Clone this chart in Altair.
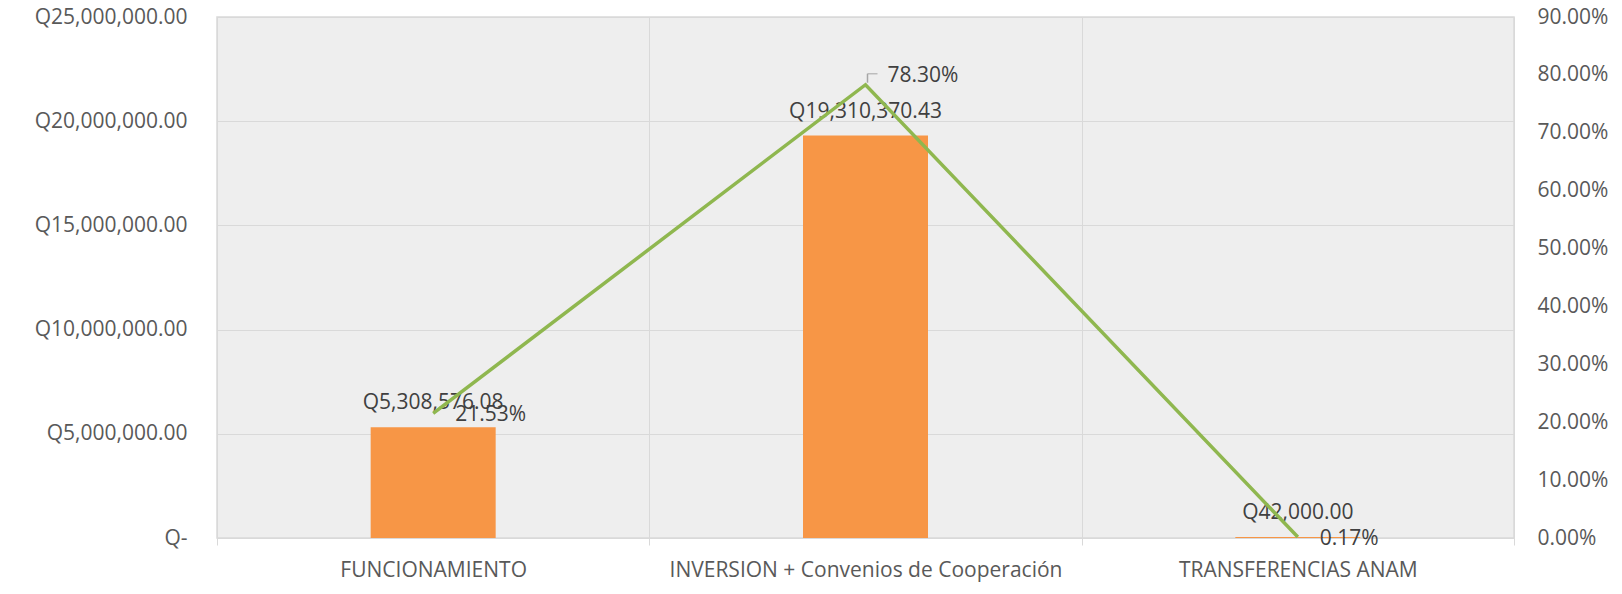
import altair as alt
import pandas as pd

categories = ["FUNCIONAMIENTO", "INVERSION + Convenios de Cooperación", "TRANSFERENCIAS ANAM"]
amounts = [5308576.08, 19310370.43, 42000.00]
amount_labels = ["Q5,308,576.08", "Q19,310,370.43", "Q42,000.00"]
percents = [0.2153, 0.7830, 0.0017]
left_ticks = [0, 5000000, 10000000, 15000000, 20000000, 25000000]
right_ticks = [0, 0.1, 0.2, 0.3, 0.4, 0.5, 0.6, 0.7, 0.8, 0.9]

df = pd.DataFrame({
    "cat": categories,
    "amount": amounts,
    "amt_label": amount_labels,
    "pct": percents,
})

FONT = "Open Sans"
LBL = "#595959"
GRID = "#d9d9d9"
ORANGE = "#F79646"
GREEN = "#8FB74F"

x_enc = alt.X(
    "cat:N", sort=categories, title=None,
    scale=alt.Scale(paddingInner=0, paddingOuter=0),
    axis=alt.Axis(labelAngle=0, labelFont=FONT, labelFontSize=21, labelColor=LBL,
                  labelPadding=14, tickBand="extent", tickSize=7, tickColor=GRID,
                  grid=True, gridColor=GRID, domainColor=GRID, labelLimit=600),
)

y_left = alt.Y(
    "amount:Q", title=None,
    scale=alt.Scale(domain=[0, 25000000], nice=False),
    axis=alt.Axis(values=left_ticks, orient="left", grid=True, gridColor=GRID,
                  domain=False, ticks=False, labelPadding=30, labelFont=FONT,
                  labelFontSize=21, labelColor=LBL,
                  labelExpr="datum.value == 0 ? 'Q-' : 'Q' + format(datum.value, ',.2f')"),
)

y_right = alt.Y(
    "pct:Q", title=None,
    scale=alt.Scale(domain=[0, 0.9], nice=False),
    axis=alt.Axis(values=right_ticks, orient="right", grid=False, domain=False,
                  ticks=False, labelPadding=23, labelFont=FONT, labelFontSize=21,
                  labelColor=LBL, format=".2%"),
)

base = alt.Chart(df)

bars = base.mark_bar(size=125, color=ORANGE).encode(x=x_enc, y=y_left)
bar_text = base.mark_text(baseline="middle", dy=-24, font=FONT, fontSize=21,
                          color="#404040").encode(x=x_enc, y=y_left, text="amt_label:N")
left = alt.layer(bars, bar_text)

line = base.mark_line(color=GREEN, strokeWidth=3.5).encode(x=x_enc, y=y_right)
pct_text_low = base.transform_filter("datum.pct < 0.5").mark_text(
    align="left", baseline="middle", dx=22, dy=2, font=FONT, fontSize=21, color="#404040"
).encode(x=x_enc, y=y_right, text=alt.Text("pct:Q", format=".2%"))
pct_text_peak = base.transform_filter("datum.pct >= 0.5").mark_text(
    align="left", baseline="middle", dx=22, dy=-9, font=FONT, fontSize=21, color="#404040"
).encode(x=x_enc, y=y_right, text=alt.Text("pct:Q", format=".2%"))
leader_v = base.transform_filter("datum.pct >= 0.5").mark_rule(
    color="#a6a6a6", strokeWidth=1.5, xOffset=2, yOffset=-2, y2Offset=-11
).encode(x=x_enc, y=y_right, y2="pct:Q")
leader_h = base.transform_filter("datum.pct >= 0.5").mark_tick(
    color="#a6a6a6", thickness=1.5, size=10, xOffset=7, yOffset=-11
).encode(x=x_enc, y=y_right)
right = alt.layer(line, leader_v, leader_h, pct_text_low, pct_text_peak)

chart = alt.layer(left, right).resolve_scale(y="independent").properties(
    width=1297, height=521,
    padding={"left": 209, "top": 9, "right": 100, "bottom": 48},
    autosize=alt.AutoSizeParams(type="none"),
).configure_view(fill="#eeeeee", stroke=GRID, strokeWidth=1.5)

chart.save("out.html", embed_options={"renderer": "svg", "actions": False})
